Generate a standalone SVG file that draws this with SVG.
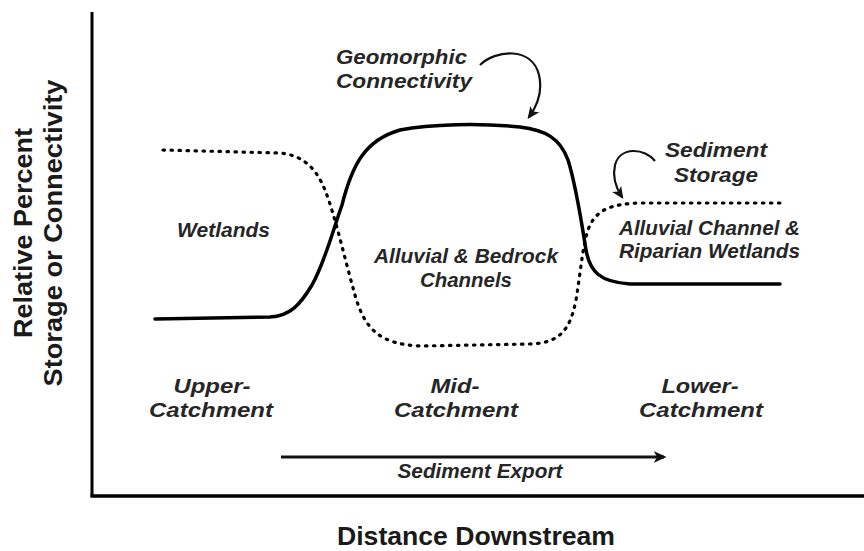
<svg xmlns="http://www.w3.org/2000/svg" width="864" height="551" viewBox="0 0 864 551">
<style>
.lbl{font-family:"Liberation Sans",Arial,sans-serif;font-weight:bold;font-style:italic;font-size:21px;fill:#262626}
.ax{font-family:"Liberation Sans",Arial,sans-serif;font-weight:bold;font-size:25px;fill:#1a1a1a}
.solid{fill:none;stroke:#000;stroke-width:3.5;stroke-linecap:round;stroke-linejoin:round}
.dot{fill:none;stroke:#000;stroke-width:3.2;stroke-linecap:round;stroke-dasharray:1.5 6.5}
.arr{fill:none;stroke:#111;stroke-width:2.2}
</style>
<defs>
<marker id="ah" viewBox="0 0 10 10" refX="8" refY="5" markerWidth="5.5" markerHeight="5.5" orient="auto" markerUnits="strokeWidth">
<path d="M0,0.5 L10,5 L0,9.5 L2.5,5 z" fill="#111"/>
</marker>
<marker id="ah2" viewBox="0 0 10 10" refX="8" refY="5" markerWidth="4.5" markerHeight="4.5" orient="auto" markerUnits="strokeWidth">
<path d="M0,0.5 L10,5 L0,9.5 L2.5,5 z" fill="#111"/>
</marker>
</defs>
<rect width="864" height="551" fill="#fff"/>
<g id="axes">
<line x1="92" y1="12" x2="92" y2="497" stroke="#000" stroke-width="3"/>
<line x1="90.5" y1="496" x2="864" y2="496" stroke="#000" stroke-width="3.5"/>
<text class="ax" transform="translate(32,233) rotate(-90)" text-anchor="middle" textLength="210" lengthAdjust="spacingAndGlyphs">Relative Percent</text>
<text class="ax" transform="translate(62,233) rotate(-90)" text-anchor="middle" textLength="307" lengthAdjust="spacingAndGlyphs">Storage or Connectivity</text>
<text class="ax" x="476" y="545" text-anchor="middle" textLength="278" lengthAdjust="spacingAndGlyphs">Distance Downstream</text>
</g>
<g id="connectors">
<path id="connectivity-curve" class="solid" d="M155,319 L270,317 C290,316 300,305 312,285 C325,262 333,230 342,205 C352,165 365,140 400,130 C430,124 480,123 520,127 C545,130 560,138 568,160 C576,185 582,225 586,250 C590,272 600,282 630,284 L780,284"/>
<path id="storage-curve" class="dot" d="M163,150 L280,153 C300,155 315,165 325,190 C335,215 345,260 355,295 C365,330 380,344 420,346 L530,344 C560,343 570,330 576,300 C581,270 583,240 590,225 C598,210 610,204 640,203 L780,203"/>
<path id="geo-arrow" class="arr" d="M480,65 C495,50 532,46 539,75 C543,92 537,106 529,117" marker-end="url(#ah)"/>
<path id="storage-arrow" class="arr" d="M655,161 C645,148 620,146 615,165 C612,178 616,188 622,197" marker-end="url(#ah)"/>
<path id="export-arrow" class="arr" style="stroke-width:2.8" d="M281,457 L664,457" marker-end="url(#ah2)"/>
</g>
<g id="geomorphic-label">
<text class="lbl" x="336" y="64" textLength="131" lengthAdjust="spacingAndGlyphs">Geomorphic</text>
<text class="lbl" x="336" y="88" textLength="136" lengthAdjust="spacingAndGlyphs">Connectivity</text>
</g>
<g id="wetlands">
<text class="lbl" x="177" y="237" textLength="93" lengthAdjust="spacingAndGlyphs">Wetlands</text>
</g>
<g id="alluvial-bedrock">
<text class="lbl" x="466" y="263" text-anchor="middle" textLength="184" lengthAdjust="spacingAndGlyphs">Alluvial &amp; Bedrock</text>
<text class="lbl" x="466" y="287" text-anchor="middle" textLength="92" lengthAdjust="spacingAndGlyphs">Channels</text>
</g>
<g id="sediment-storage">
<text class="lbl" x="716" y="157" text-anchor="middle" textLength="102" lengthAdjust="spacingAndGlyphs">Sediment</text>
<text class="lbl" x="716" y="182" text-anchor="middle" textLength="84" lengthAdjust="spacingAndGlyphs">Storage</text>
</g>
<g id="alluvial-riparian">
<text class="lbl" x="619" y="235" textLength="181" lengthAdjust="spacingAndGlyphs">Alluvial Channel &amp;</text>
<text class="lbl" x="619" y="258" textLength="181" lengthAdjust="spacingAndGlyphs">Riparian Wetlands</text>
</g>
<g id="upper-catchment">
<text class="lbl" x="212" y="393" text-anchor="middle" textLength="77" lengthAdjust="spacingAndGlyphs">Upper-</text>
<text class="lbl" x="211" y="417" text-anchor="middle" textLength="124" lengthAdjust="spacingAndGlyphs">Catchment</text>
</g>
<g id="mid-catchment">
<text class="lbl" x="455" y="393" text-anchor="middle" textLength="49" lengthAdjust="spacingAndGlyphs">Mid-</text>
<text class="lbl" x="456" y="417" text-anchor="middle" textLength="124" lengthAdjust="spacingAndGlyphs">Catchment</text>
</g>
<g id="lower-catchment">
<text class="lbl" x="700" y="393" text-anchor="middle" textLength="77" lengthAdjust="spacingAndGlyphs">Lower-</text>
<text class="lbl" x="701" y="417" text-anchor="middle" textLength="124" lengthAdjust="spacingAndGlyphs">Catchment</text>
</g>
<g id="sediment-export">
<text class="lbl" x="480" y="478" text-anchor="middle" textLength="165" lengthAdjust="spacingAndGlyphs">Sediment Export</text>
</g>
</svg>
